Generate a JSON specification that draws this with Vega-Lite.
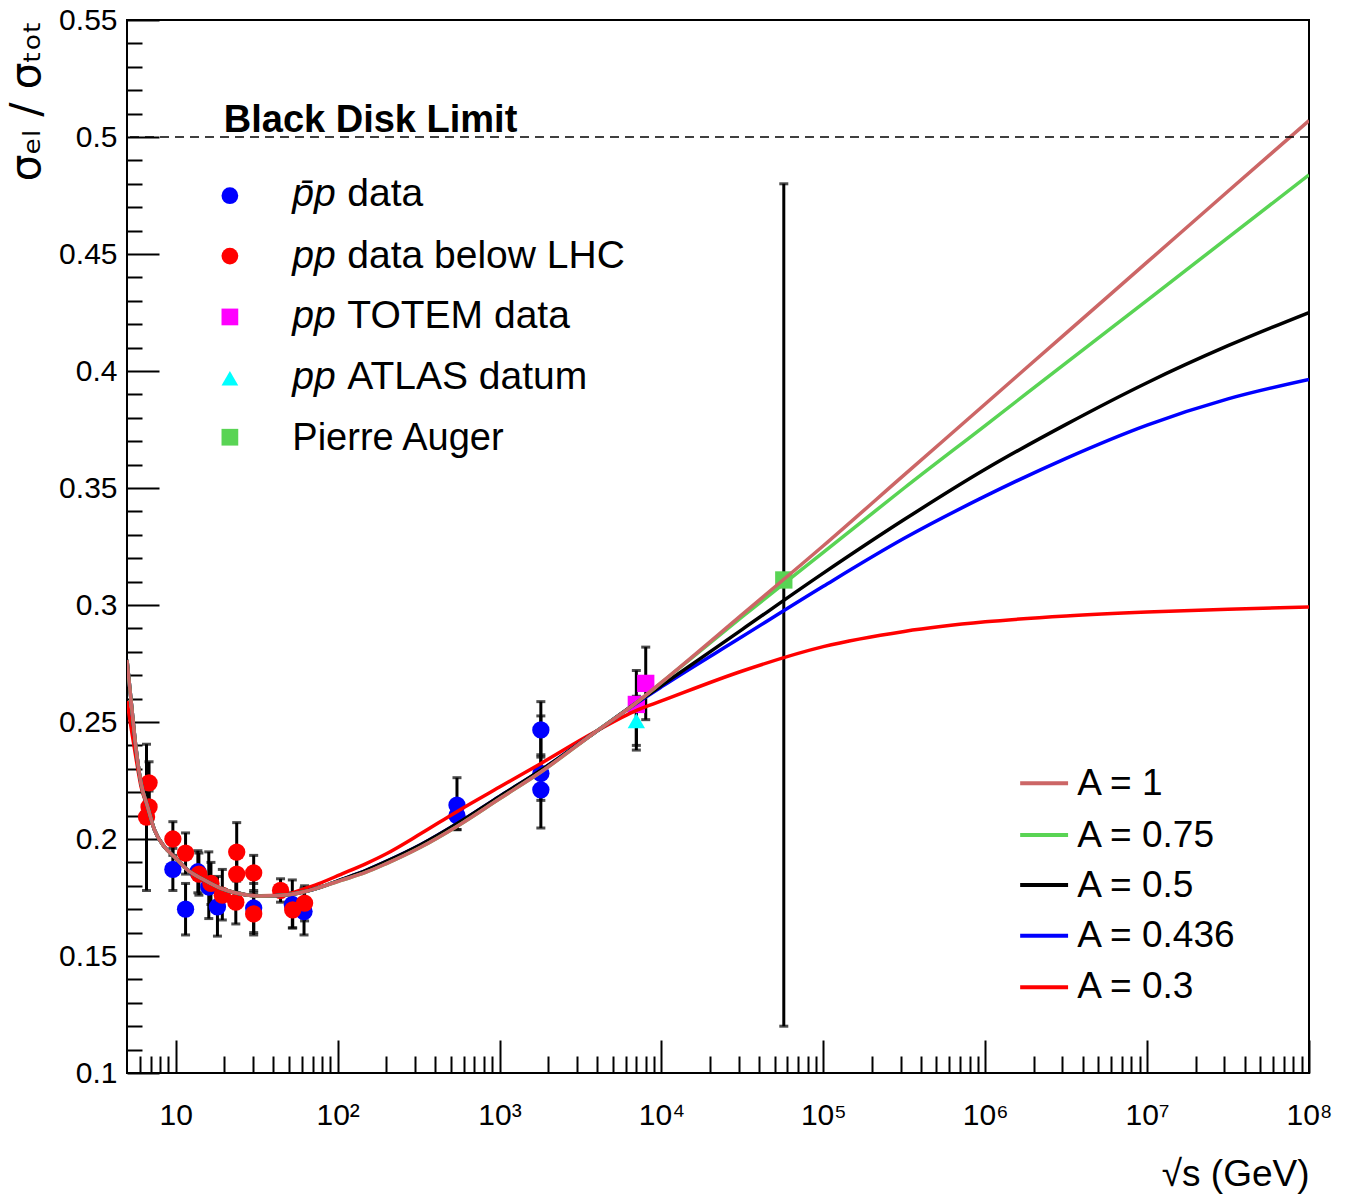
{
  "$schema": "https://vega.github.io/schema/vega-lite/v6.json",
  "width": 1182,
  "height": 1053,
  "autosize": {"type": "none"},
  "padding": {"left": 127, "top": 20, "right": 39, "bottom": 122},
  "background": "white",
  "config": {
    "view": {"stroke": "black", "strokeWidth": 2},
    "axis": {"grid": false, "domain": false, "labelColor": "black", "tickColor": "black", "tickWidth": 2, "labelFont": "Liberation Sans", "labelFontSize": 30, "titleColor": "black", "titleFontWeight": "normal"}
  },
  "datasets": {
    "curves": [
      {"A": "A = 0.3", "x": 5, "y": 0.259}, {"A": "A = 0.3", "x": 5.3, "y": 0.2475}, {"A": "A = 0.3", "x": 5.7, "y": 0.234}, {"A": "A = 0.3", "x": 6.1, "y": 0.2225}, {"A": "A = 0.3", "x": 6.7, "y": 0.2135}, {"A": "A = 0.3", "x": 7.4, "y": 0.2038}, {"A": "A = 0.3", "x": 8.5, "y": 0.1967}, {"A": "A = 0.3", "x": 9.8, "y": 0.1924}, {"A": "A = 0.3", "x": 11.8, "y": 0.1868}, {"A": "A = 0.3", "x": 15, "y": 0.1825}, {"A": "A = 0.3", "x": 19, "y": 0.1789}, {"A": "A = 0.3", "x": 24, "y": 0.1768}, {"A": "A = 0.3", "x": 33.5, "y": 0.1757}, {"A": "A = 0.3", "x": 49, "y": 0.1765}, {"A": "A = 0.3", "x": 65, "y": 0.1792}, {"A": "A = 0.3", "x": 79, "y": 0.1813}, {"A": "A = 0.3", "x": 104, "y": 0.1848}, {"A": "A = 0.3", "x": 150, "y": 0.1895}, {"A": "A = 0.3", "x": 200, "y": 0.1937}, {"A": "A = 0.3", "x": 325, "y": 0.2022}, {"A": "A = 0.3", "x": 548, "y": 0.2118}, {"A": "A = 0.3", "x": 1000, "y": 0.2222}, {"A": "A = 0.3", "x": 1790, "y": 0.2322}, {"A": "A = 0.3", "x": 3820, "y": 0.2455}, {"A": "A = 0.3", "x": 7080, "y": 0.2551}, {"A": "A = 0.3", "x": 10000, "y": 0.259}, {"A": "A = 0.3", "x": 31600, "y": 0.2718}, {"A": "A = 0.3", "x": 100000, "y": 0.2822}, {"A": "A = 0.3", "x": 316000, "y": 0.2887}, {"A": "A = 0.3", "x": 1000000, "y": 0.2928}, {"A": "A = 0.3", "x": 3160000, "y": 0.2953}, {"A": "A = 0.3", "x": 10000000, "y": 0.297}, {"A": "A = 0.3", "x": 31600000, "y": 0.2982}, {"A": "A = 0.3", "x": 100000000, "y": 0.2991},

      {"A": "A = 0.436", "x": 5, "y": 0.2765}, {"A": "A = 0.436", "x": 5.3, "y": 0.259}, {"A": "A = 0.436", "x": 5.7, "y": 0.238}, {"A": "A = 0.436", "x": 6.1, "y": 0.224}, {"A": "A = 0.436", "x": 6.7, "y": 0.2138}, {"A": "A = 0.436", "x": 7.4, "y": 0.2038}, {"A": "A = 0.436", "x": 8.5, "y": 0.1967}, {"A": "A = 0.436", "x": 9.8, "y": 0.1924}, {"A": "A = 0.436", "x": 11.8, "y": 0.1868}, {"A": "A = 0.436", "x": 15, "y": 0.1825}, {"A": "A = 0.436", "x": 19, "y": 0.1789}, {"A": "A = 0.436", "x": 24, "y": 0.1768}, {"A": "A = 0.436", "x": 33.5, "y": 0.1756}, {"A": "A = 0.436", "x": 49, "y": 0.1762}, {"A": "A = 0.436", "x": 65, "y": 0.1778}, {"A": "A = 0.436", "x": 79, "y": 0.1795}, {"A": "A = 0.436", "x": 104, "y": 0.1825}, {"A": "A = 0.436", "x": 150, "y": 0.1866}, {"A": "A = 0.436", "x": 200, "y": 0.1904}, {"A": "A = 0.436", "x": 325, "y": 0.1975}, {"A": "A = 0.436", "x": 548, "y": 0.2066}, {"A": "A = 0.436", "x": 1000, "y": 0.2182}, {"A": "A = 0.436", "x": 1790, "y": 0.2293}, {"A": "A = 0.436", "x": 3820, "y": 0.2452}, {"A": "A = 0.436", "x": 7080, "y": 0.2582}, {"A": "A = 0.436", "x": 10000, "y": 0.265}, {"A": "A = 0.436", "x": 31600, "y": 0.2865}, {"A": "A = 0.436", "x": 100000, "y": 0.308}, {"A": "A = 0.436", "x": 316000, "y": 0.3285}, {"A": "A = 0.436", "x": 1000000, "y": 0.3465}, {"A": "A = 0.436", "x": 3160000, "y": 0.3627}, {"A": "A = 0.436", "x": 10000000, "y": 0.3769}, {"A": "A = 0.436", "x": 31600000, "y": 0.3881}, {"A": "A = 0.436", "x": 100000000, "y": 0.3964},

      {"A": "A = 0.5", "x": 5, "y": 0.2765}, {"A": "A = 0.5", "x": 5.3, "y": 0.259}, {"A": "A = 0.5", "x": 5.7, "y": 0.238}, {"A": "A = 0.5", "x": 6.1, "y": 0.224}, {"A": "A = 0.5", "x": 6.7, "y": 0.2138}, {"A": "A = 0.5", "x": 7.4, "y": 0.2038}, {"A": "A = 0.5", "x": 8.5, "y": 0.1967}, {"A": "A = 0.5", "x": 9.8, "y": 0.1924}, {"A": "A = 0.5", "x": 11.8, "y": 0.1868}, {"A": "A = 0.5", "x": 15, "y": 0.1825}, {"A": "A = 0.5", "x": 19, "y": 0.1789}, {"A": "A = 0.5", "x": 24, "y": 0.1768}, {"A": "A = 0.5", "x": 33.5, "y": 0.1756}, {"A": "A = 0.5", "x": 49, "y": 0.1762}, {"A": "A = 0.5", "x": 65, "y": 0.1778}, {"A": "A = 0.5", "x": 79, "y": 0.1795}, {"A": "A = 0.5", "x": 104, "y": 0.1825}, {"A": "A = 0.5", "x": 150, "y": 0.1866}, {"A": "A = 0.5", "x": 200, "y": 0.1904}, {"A": "A = 0.5", "x": 325, "y": 0.1975}, {"A": "A = 0.5", "x": 548, "y": 0.2066}, {"A": "A = 0.5", "x": 1000, "y": 0.2182}, {"A": "A = 0.5", "x": 1790, "y": 0.2293}, {"A": "A = 0.5", "x": 3820, "y": 0.2452}, {"A": "A = 0.5", "x": 7080, "y": 0.2585}, {"A": "A = 0.5", "x": 10000, "y": 0.2656}, {"A": "A = 0.5", "x": 31600, "y": 0.2896}, {"A": "A = 0.5", "x": 100000, "y": 0.3136}, {"A": "A = 0.5", "x": 316000, "y": 0.3365}, {"A": "A = 0.5", "x": 1000000, "y": 0.358}, {"A": "A = 0.5", "x": 3160000, "y": 0.3772}, {"A": "A = 0.5", "x": 10000000, "y": 0.395}, {"A": "A = 0.5", "x": 31600000, "y": 0.4108}, {"A": "A = 0.5", "x": 100000000, "y": 0.425},

      {"A": "A = 0.75", "x": 5, "y": 0.2765}, {"A": "A = 0.75", "x": 5.3, "y": 0.259}, {"A": "A = 0.75", "x": 5.7, "y": 0.238}, {"A": "A = 0.75", "x": 6.1, "y": 0.224}, {"A": "A = 0.75", "x": 6.7, "y": 0.2138}, {"A": "A = 0.75", "x": 7.4, "y": 0.2038}, {"A": "A = 0.75", "x": 8.5, "y": 0.1967}, {"A": "A = 0.75", "x": 9.8, "y": 0.1924}, {"A": "A = 0.75", "x": 11.8, "y": 0.1868}, {"A": "A = 0.75", "x": 15, "y": 0.1825}, {"A": "A = 0.75", "x": 19, "y": 0.1789}, {"A": "A = 0.75", "x": 24, "y": 0.1768}, {"A": "A = 0.75", "x": 33.5, "y": 0.1756}, {"A": "A = 0.75", "x": 49, "y": 0.1762}, {"A": "A = 0.75", "x": 65, "y": 0.1778}, {"A": "A = 0.75", "x": 79, "y": 0.1795}, {"A": "A = 0.75", "x": 104, "y": 0.1822}, {"A": "A = 0.75", "x": 150, "y": 0.1858}, {"A": "A = 0.75", "x": 200, "y": 0.1895}, {"A": "A = 0.75", "x": 325, "y": 0.1965}, {"A": "A = 0.75", "x": 548, "y": 0.2055}, {"A": "A = 0.75", "x": 1000, "y": 0.2172}, {"A": "A = 0.75", "x": 1790, "y": 0.2285}, {"A": "A = 0.75", "x": 3820, "y": 0.2452}, {"A": "A = 0.75", "x": 7080, "y": 0.2585}, {"A": "A = 0.75", "x": 10000, "y": 0.2668}, {"A": "A = 0.75", "x": 31600, "y": 0.295}, {"A": "A = 0.75", "x": 100000, "y": 0.3225}, {"A": "A = 0.75", "x": 316000, "y": 0.35}, {"A": "A = 0.75", "x": 1000000, "y": 0.3767}, {"A": "A = 0.75", "x": 3160000, "y": 0.4035}, {"A": "A = 0.75", "x": 10000000, "y": 0.4302}, {"A": "A = 0.75", "x": 31600000, "y": 0.457}, {"A": "A = 0.75", "x": 100000000, "y": 0.4838},

      {"A": "A = 1", "x": 5, "y": 0.2765}, {"A": "A = 1", "x": 5.3, "y": 0.259}, {"A": "A = 1", "x": 5.7, "y": 0.238}, {"A": "A = 1", "x": 6.1, "y": 0.224}, {"A": "A = 1", "x": 6.7, "y": 0.2138}, {"A": "A = 1", "x": 7.4, "y": 0.2038}, {"A": "A = 1", "x": 8.5, "y": 0.1967}, {"A": "A = 1", "x": 9.8, "y": 0.1924}, {"A": "A = 1", "x": 11.8, "y": 0.1868}, {"A": "A = 1", "x": 15, "y": 0.1825}, {"A": "A = 1", "x": 19, "y": 0.1789}, {"A": "A = 1", "x": 24, "y": 0.1768}, {"A": "A = 1", "x": 33.5, "y": 0.1756}, {"A": "A = 1", "x": 49, "y": 0.1762}, {"A": "A = 1", "x": 65, "y": 0.1778}, {"A": "A = 1", "x": 79, "y": 0.1795}, {"A": "A = 1", "x": 104, "y": 0.1822}, {"A": "A = 1", "x": 150, "y": 0.1858}, {"A": "A = 1", "x": 200, "y": 0.1895}, {"A": "A = 1", "x": 325, "y": 0.1965}, {"A": "A = 1", "x": 548, "y": 0.2055}, {"A": "A = 1", "x": 1000, "y": 0.2172}, {"A": "A = 1", "x": 1790, "y": 0.2285}, {"A": "A = 1", "x": 3820, "y": 0.2452}, {"A": "A = 1", "x": 7080, "y": 0.2585}, {"A": "A = 1", "x": 10000, "y": 0.2669}, {"A": "A = 1", "x": 31600, "y": 0.296}, {"A": "A = 1", "x": 100000, "y": 0.3253}, {"A": "A = 1", "x": 316000, "y": 0.3556}, {"A": "A = 1", "x": 1000000, "y": 0.3859}, {"A": "A = 1", "x": 3160000, "y": 0.4162}, {"A": "A = 1", "x": 10000000, "y": 0.4465}, {"A": "A = 1", "x": 31600000, "y": 0.4768}, {"A": "A = 1", "x": 100000000, "y": 0.507}
    ],
    "points": [
      {"set": "pbar", "x": 9.6, "y": 0.187, "lo": 0.178, "hi": 0.196},
      {"set": "pbar", "x": 11.5, "y": 0.170, "lo": 0.159, "hi": 0.181},
      {"set": "pbar", "x": 13.7, "y": 0.186, "lo": 0.177, "hi": 0.195},
      {"set": "pbar", "x": 16.0, "y": 0.1795, "lo": 0.166, "hi": 0.1945},
      {"set": "pbar", "x": 18.1, "y": 0.171, "lo": 0.1585, "hi": 0.184},
      {"set": "pbar", "x": 30.3, "y": 0.1705, "lo": 0.160, "hi": 0.181},
      {"set": "pbar", "x": 52.5, "y": 0.172, "lo": 0.162, "hi": 0.1825},
      {"set": "pbar", "x": 62.0, "y": 0.169, "lo": 0.159, "hi": 0.179},
      {"set": "pbar", "x": 546, "y": 0.2145, "lo": 0.204, "hi": 0.2262},
      {"set": "pbar", "x": 546, "y": 0.210, "lo": 0.204, "hi": 0.216},
      {"set": "pbar", "x": 1800, "y": 0.2466, "lo": 0.235, "hi": 0.2587},
      {"set": "pbar", "x": 1800, "y": 0.228, "lo": 0.2165, "hi": 0.2526},
      {"set": "pbar", "x": 1800, "y": 0.221, "lo": 0.2047, "hi": 0.236},
      {"set": "pp", "x": 6.6, "y": 0.2094, "lo": 0.178, "hi": 0.2405},
      {"set": "pp", "x": 6.84, "y": 0.224, "lo": 0.215, "hi": 0.233},
      {"set": "pp", "x": 6.84, "y": 0.2137, "lo": 0.207, "hi": 0.2205},
      {"set": "pp", "x": 9.6, "y": 0.200, "lo": 0.193, "hi": 0.2074},
      {"set": "pp", "x": 11.5, "y": 0.194, "lo": 0.185, "hi": 0.2026},
      {"set": "pp", "x": 13.9, "y": 0.185, "lo": 0.176, "hi": 0.194},
      {"set": "pp", "x": 16.5, "y": 0.181, "lo": 0.172, "hi": 0.190},
      {"set": "pp", "x": 19.4, "y": 0.176, "lo": 0.1654, "hi": 0.187},
      {"set": "pp", "x": 23.8, "y": 0.1944, "lo": 0.182, "hi": 0.207},
      {"set": "pp", "x": 23.8, "y": 0.185, "lo": 0.177, "hi": 0.193},
      {"set": "pp", "x": 23.5, "y": 0.173, "lo": 0.1637, "hi": 0.1825},
      {"set": "pp", "x": 30.3, "y": 0.1855, "lo": 0.178, "hi": 0.193},
      {"set": "pp", "x": 30.3, "y": 0.168, "lo": 0.159, "hi": 0.177},
      {"set": "pp", "x": 44.4, "y": 0.178, "lo": 0.173, "hi": 0.183},
      {"set": "pp", "x": 52.8, "y": 0.1697, "lo": 0.162, "hi": 0.177},
      {"set": "pp", "x": 62.5, "y": 0.1726, "lo": 0.165, "hi": 0.180},
      {"set": "TOTEM", "x": 7000, "y": 0.2575, "lo": 0.238, "hi": 0.272},
      {"set": "TOTEM", "x": 8000, "y": 0.2665, "lo": 0.251, "hi": 0.282},
      {"set": "ATLAS", "x": 7000, "y": 0.2505, "lo": 0.240, "hi": 0.261},
      {"set": "Auger", "x": 57000, "y": 0.3107, "lo": 0.120, "hi": 0.480}
    ],
    "legSym": [
      {"set": "pbar", "x": 21.6, "y": 0.4749},
      {"set": "pp", "x": 21.6, "y": 0.4491},
      {"set": "TOTEM", "x": 21.6, "y": 0.4231},
      {"set": "ATLAS", "x": 21.6, "y": 0.3969},
      {"set": "Auger", "x": 21.6, "y": 0.3717}
    ],
    "legItalic": [
      {"x": 52.5, "y": 0.4705, "t": "p̄p"},
      {"x": 52.5, "y": 0.4440, "t": "pp"},
      {"x": 52.5, "y": 0.4184, "t": "pp"},
      {"x": 52.5, "y": 0.3923, "t": "pp"}
    ],
    "legRest": [
      {"x": 52.5, "y": 0.4705, "t": "data"},
      {"x": 52.5, "y": 0.4440, "t": "data below LHC"},
      {"x": 52.5, "y": 0.4184, "t": "TOTEM data"},
      {"x": 52.5, "y": 0.3923, "t": "ATLAS datum"}
    ],
    "legPlain": [
      {"x": 52.5, "y": 0.3662, "t": "Pierre Auger"}
    ],
    "legLines": [
      {"A": "A = 1", "x": 1644000, "x2": 3250000, "y": 0.2238, "ty": 0.2188, "tx": 3700000},
      {"A": "A = 0.75", "x": 1644000, "x2": 3250000, "y": 0.2017, "ty": 0.1967, "tx": 3700000},
      {"A": "A = 0.5", "x": 1644000, "x2": 3250000, "y": 0.1803, "ty": 0.1753, "tx": 3700000},
      {"A": "A = 0.436", "x": 1644000, "x2": 3250000, "y": 0.1587, "ty": 0.1540, "tx": 3700000},
      {"A": "A = 0.3", "x": 1644000, "x2": 3250000, "y": 0.1366, "ty": 0.1319, "tx": 3700000}
    ],
    "bdl": [
      {"x": 19.8, "y": 0.5021, "t": "Black Disk Limit"}
    ],
    "limit": [
      {"y": 0.5}
    ]
  },
  "layer": [
    {
      "data": {"name": "points"},
      "mark": {"type": "rule", "color": "black", "strokeWidth": 3},
      "encoding": {
        "x": {
          "field": "x", "type": "quantitative",
          "scale": {"type": "log", "domain": [5, 100000000], "nice": false},
          "axis": {
            "title": "√s (GeV)",
            "titleFont": "Liberation Sans",
            "titleFontSize": 37,
            "titleAnchor": "end", "titleAlign": "right", "titleBaseline": "alphabetic",
            "titleX": 1182, "titleY": 112,
            "tickCount": 1000,
            "values": [6,7,8,9,10,20,30,40,50,60,70,80,90,100,200,300,400,500,600,700,800,900,1000,2000,3000,4000,5000,6000,7000,8000,9000,10000,20000,30000,40000,50000,60000,70000,80000,90000,100000,200000,300000,400000,500000,600000,700000,800000,900000,1000000,2000000,3000000,4000000,5000000,6000000,7000000,8000000,9000000,10000000,20000000,30000000,40000000,50000000,60000000,70000000,80000000,90000000,100000000],
            "labelExpr": "abs(log(datum.value)/LN10 - round(log(datum.value)/LN10)) < 0.001 ? (datum.value < 11 ? '10' : '10' + ['','','²','³','⁴','⁵','⁶','⁷','⁸'][round(log(datum.value)/LN10)]) : ''",
            "tickSize": {"condition": {"test": "abs(log(datum.value)/LN10 - round(log(datum.value)/LN10)) < 0.001", "value": -33}, "value": -17},
            "labelPadding": 60,
            "labelFlush": false,
            "labelOverlap": false
          }
        },
        "y": {
          "field": "lo", "type": "quantitative",
          "scale": {"domain": [0.1, 0.55], "nice": false, "zero": false},
          "axis": {
            "title": "σₑₗ / σₜₒₜ",
            "titleFont": "DejaVu Sans",
            "titleFontSize": 42,
            "titleAngle": -90,
            "titleAlign": "right", "titleBaseline": "alphabetic",
            "titleX": -88, "titleY": 0,
            "tickCount": 1000,
            "values": [0.1,0.11,0.12,0.13,0.14,0.15,0.16,0.17,0.18,0.19,0.2,0.21,0.22,0.23,0.24,0.25,0.26,0.27,0.28,0.29,0.3,0.31,0.32,0.33,0.34,0.35,0.36,0.37,0.38,0.39,0.4,0.41,0.42,0.43,0.44,0.45,0.46,0.47,0.48,0.49,0.5,0.51,0.52,0.53,0.54,0.55],
            "labelExpr": "round(datum.value*100) % 5 === 0 ? format(datum.value, '~g') : ''",
            "tickSize": {"condition": {"test": "round(datum.value*100) % 5 === 0", "value": -32}, "value": -15},
            "labelPadding": 42,
            "labelFlush": false,
            "labelOverlap": false
          }
        },
        "y2": {"field": "hi"}
      }
    },
    {
      "data": {"name": "points"},
      "mark": {"type": "tick", "orient": "horizontal", "color": "black", "size": 9, "thickness": 3},
      "encoding": {
        "x": {"field": "x", "type": "quantitative"},
        "y": {"field": "lo", "type": "quantitative"}
      }
    },
    {
      "data": {"name": "points"},
      "mark": {"type": "tick", "orient": "horizontal", "color": "black", "size": 9, "thickness": 3},
      "encoding": {
        "x": {"field": "x", "type": "quantitative"},
        "y": {"field": "hi", "type": "quantitative"}
      }
    },
    {
      "data": {"name": "points"},
      "mark": {"type": "point", "filled": true, "opacity": 1, "size": 300},
      "encoding": {
        "x": {"field": "x", "type": "quantitative"},
        "y": {"field": "y", "type": "quantitative"},
        "color": {"field": "set", "type": "nominal", "legend": null,
          "scale": {"domain": ["A = 1", "A = 0.75", "A = 0.5", "A = 0.436", "A = 0.3", "pbar", "pp", "TOTEM", "ATLAS", "Auger"], "range": ["#cc6666", "#59d454", "#000000", "#0000ff", "#ff0000", "#0000ff", "#ff0000", "#ff00ff", "#00ffff", "#59d454"]}},
        "shape": {"field": "set", "type": "nominal", "legend": null,
          "scale": {"domain": ["pbar", "pp", "TOTEM", "ATLAS", "Auger"], "range": ["circle", "circle", "square", "triangle-up", "square"]}}
      }
    },
    {
      "data": {"name": "curves"},
      "mark": {"type": "line", "strokeWidth": 3.5, "interpolate": "monotone", "clip": true},
      "encoding": {
        "x": {"field": "x", "type": "quantitative"},
        "y": {"field": "y", "type": "quantitative"},
        "color": {"field": "A", "type": "nominal", "legend": null}
      }
    },
    {
      "data": {"name": "limit"},
      "mark": {"type": "rule", "strokeDash": [9, 6], "strokeWidth": 1.5, "color": "black"},
      "encoding": {"y": {"field": "y", "type": "quantitative"}}
    },
    {
      "data": {"name": "legSym"},
      "mark": {"type": "point", "filled": true, "opacity": 1, "size": 280},
      "encoding": {
        "x": {"field": "x", "type": "quantitative"},
        "y": {"field": "y", "type": "quantitative"},
        "color": {"field": "set", "type": "nominal", "legend": null},
        "shape": {"field": "set", "type": "nominal", "legend": null}
      }
    },
    {
      "data": {"name": "legItalic"},
      "mark": {"type": "text", "align": "left", "baseline": "alphabetic", "font": "Liberation Sans", "fontSize": 39, "fontStyle": "italic", "color": "black"},
      "encoding": {
        "x": {"field": "x", "type": "quantitative"},
        "y": {"field": "y", "type": "quantitative"},
        "text": {"field": "t"}
      }
    },
    {
      "data": {"name": "legRest"},
      "mark": {"type": "text", "align": "left", "baseline": "alphabetic", "font": "Liberation Sans", "fontSize": 39, "dx": 55, "color": "black"},
      "encoding": {
        "x": {"field": "x", "type": "quantitative"},
        "y": {"field": "y", "type": "quantitative"},
        "text": {"field": "t"}
      }
    },
    {
      "data": {"name": "legPlain"},
      "mark": {"type": "text", "align": "left", "baseline": "alphabetic", "font": "Liberation Sans", "fontSize": 38, "color": "black"},
      "encoding": {
        "x": {"field": "x", "type": "quantitative"},
        "y": {"field": "y", "type": "quantitative"},
        "text": {"field": "t"}
      }
    },
    {
      "data": {"name": "bdl"},
      "mark": {"type": "text", "align": "left", "baseline": "alphabetic", "font": "Liberation Sans", "fontSize": 38, "fontWeight": "bold", "color": "black"},
      "encoding": {
        "x": {"field": "x", "type": "quantitative"},
        "y": {"field": "y", "type": "quantitative"},
        "text": {"field": "t"}
      }
    },
    {
      "data": {"name": "legLines"},
      "mark": {"type": "rule", "strokeWidth": 4},
      "encoding": {
        "x": {"field": "x", "type": "quantitative"},
        "x2": {"field": "x2"},
        "y": {"field": "y", "type": "quantitative"},
        "color": {"field": "A", "type": "nominal", "legend": null}
      }
    },
    {
      "data": {"name": "legLines"},
      "mark": {"type": "text", "align": "left", "baseline": "alphabetic", "font": "Liberation Sans", "fontSize": 37, "color": "black"},
      "encoding": {
        "x": {"field": "tx", "type": "quantitative"},
        "y": {"field": "ty", "type": "quantitative"},
        "text": {"field": "A"}
      }
    }
  ]
}
